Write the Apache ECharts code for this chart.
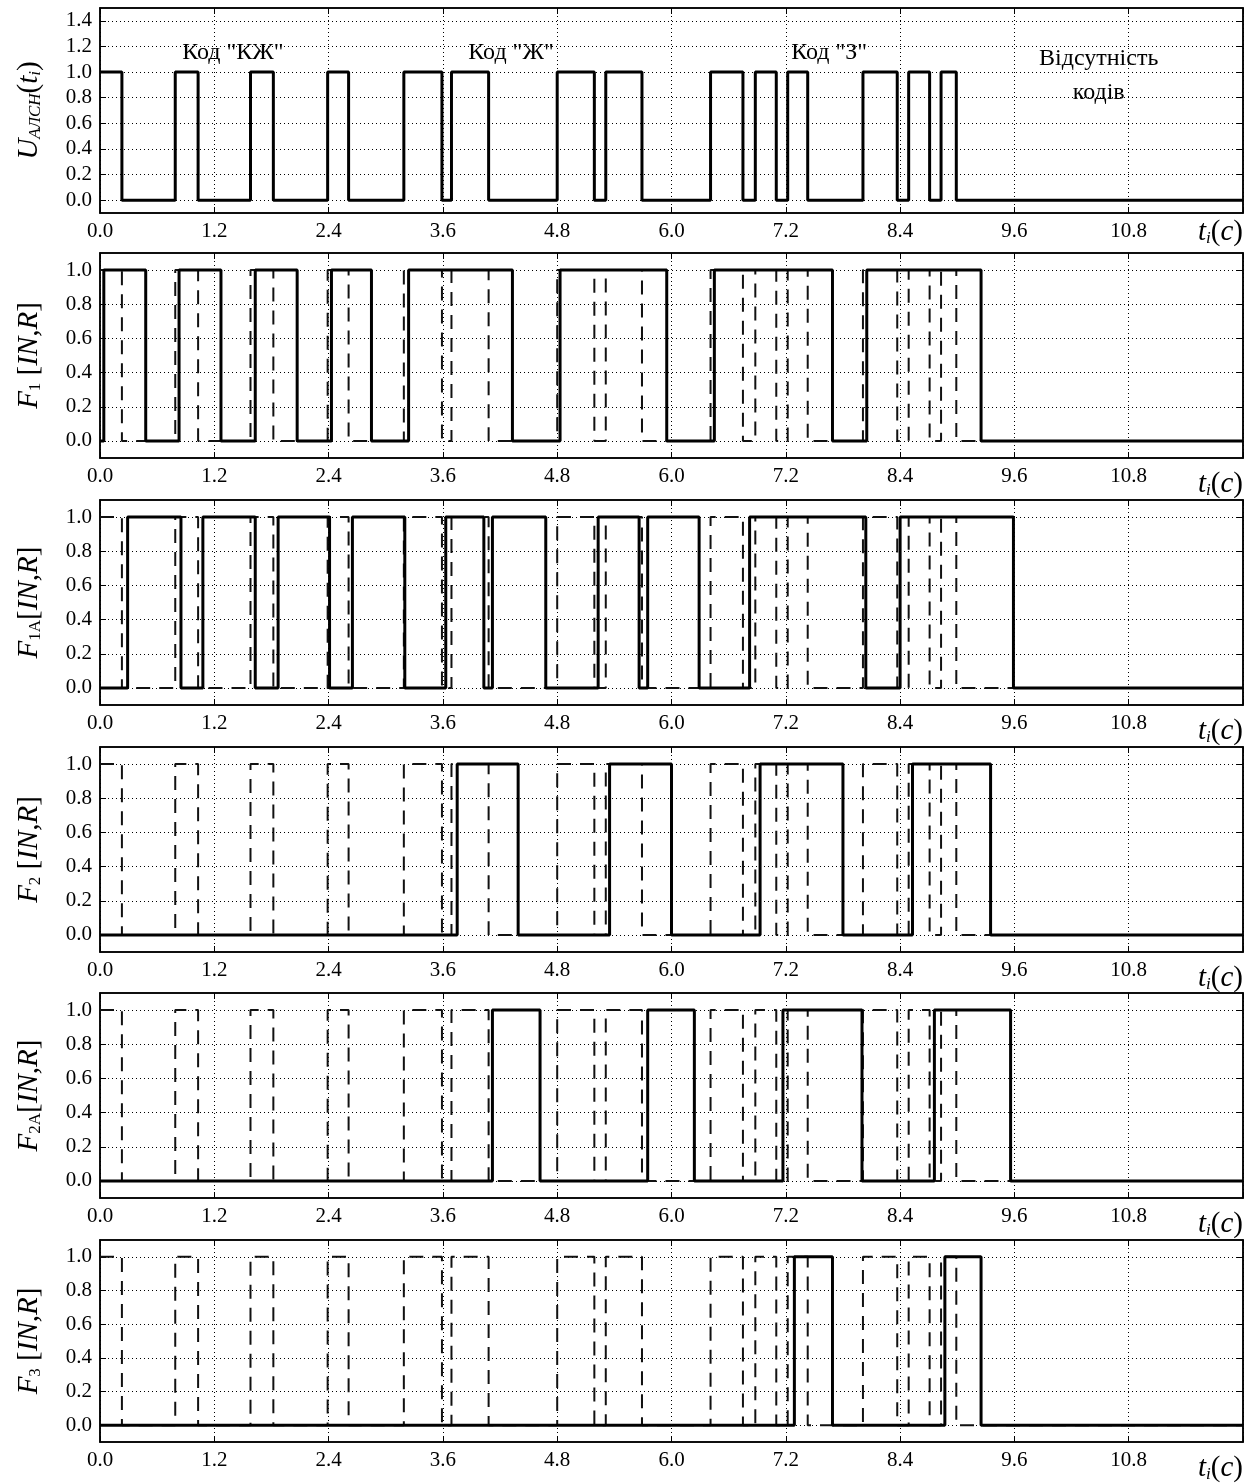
<!DOCTYPE html>
<html>
<head>
<meta charset="utf-8">
<script src="https://cdn.jsdelivr.net/npm/echarts@6/dist/echarts.min.js"></script>
<style>
    html, body { margin: 0; background: #fff; }
    #chart { width: 1259px; height: 1483px; }
</style>
</head>
<body>
<div id="chart"></div>
<script>
// імпульси сигналів: [початок, кінець], с
const uPulses = [[0, 0.23], [0.79, 1.03], [1.58, 1.82], [2.39, 2.61], [3.19, 3.59], [3.69, 4.08], [4.80, 5.19],
    [5.31, 5.69], [6.41, 6.75], [6.88, 7.10], [7.22, 7.43], [8.01, 8.37], [8.49, 8.71], [8.83, 8.99]]
const f1Pulses = [[0.04, 0.48], [0.83, 1.27], [1.63, 2.07], [2.43, 2.85], [3.24, 4.33], [4.83, 5.95], [6.45, 7.69], [8.05, 9.25]]
const f1aPulses = [[0.29, 0.85], [1.08, 1.63], [1.87, 2.41], [2.65, 3.20], [3.63, 4.03], [4.12, 4.68], [5.23, 5.66],
    [5.75, 6.29], [6.82, 8.04], [8.40, 9.59]]
const f2Pulses = [[3.75, 4.39], [5.35, 6.00], [6.93, 7.80], [8.53, 9.35]]
const f2aPulses = [[4.12, 4.62], [5.75, 6.24], [7.17, 8.00], [8.76, 9.56]]
const f3Pulses = [[7.29, 7.69], [8.87, 9.25]]

const tMax = 12
const xInterval = 1.2
const yTicksTop = [0, 0.2, 0.4, 0.6, 0.8, 1.0, 1.2, 1.4]
const yTicks = [0, 0.2, 0.4, 0.6, 0.8, 1.0]

const annoText = ['Код "КЖ"', 'Код "Ж"', 'Код "З"', 'Відсутність\nкодів']
const annoX = [1.40, 4.32, 7.66, 10.49]
const annoY = [1.15, 1.15, 1.15, 0.97]

const font = "'Liberation Serif', 'DejaVu Serif', serif"

const panels = [
    { label: '{i|U}{si|АЛСН}{n|(}{i|t}{si|i}{n|)}', pulses: uPulses, yMax: 1.5, ticks: yTicksTop, dashed: false },
    { label: '{i|F}{s|1}{n| [}{i|IN}{n|,}{i|R}{n|]}', pulses: f1Pulses, yMax: 1.1, ticks: yTicks, dashed: true },
    { label: '{i|F}{s|1A}{n|[}{i|IN}{n|,}{i|R}{n|]}', pulses: f1aPulses, yMax: 1.1, ticks: yTicks, dashed: true },
    { label: '{i|F}{s|2}{n| [}{i|IN}{n|,}{i|R}{n|]}', pulses: f2Pulses, yMax: 1.1, ticks: yTicks, dashed: true },
    { label: '{i|F}{s|2A}{n|[}{i|IN}{n|,}{i|R}{n|]}', pulses: f2aPulses, yMax: 1.1, ticks: yTicks, dashed: true },
    { label: '{i|F}{s|3}{n| [}{i|IN}{n|,}{i|R}{n|]}', pulses: f3Pulses, yMax: 1.1, ticks: yTicks, dashed: true },
]
const tops = [8, 253, 500, 747, 993, 1240]

const rich = {
    i: { fontFamily: font, fontStyle: 'italic', fontSize: 29, color: '#000' },
    n: { fontFamily: font, fontSize: 29, color: '#000' },
    s: { fontFamily: font, fontSize: 17, color: '#000', verticalAlign: 'bottom' },
    si: { fontFamily: font, fontStyle: 'italic', fontSize: 17, color: '#000', verticalAlign: 'bottom' },
}

// ступінчаста крива з імпульсів
const toStep = (pulses) => {
    const d = []
    if (pulses[0][0] > 0) d.push([0, 0])
    pulses.forEach(([s, e]) => {
        d.push([s, 1])
        d.push([e, 0])
    })
    d.push([tMax, 0])
    return d
}

const chart = echarts.init(document.getElementById('chart'))
const grid = []
const xAxis = []
const yAxis = []
const series = []

panels.forEach((p, k) => {
    grid.push({ left: 100, right: 16, top: tops[k], height: 205, show: true, borderColor: '#000', borderWidth: 1.5 })
    const frameLine = { onZero: false, lineStyle: { color: '#000', width: 1.5 } }
    xAxis.push({
        gridIndex: k, type: 'value', min: 0, max: tMax, interval: xInterval,
        axisLine: frameLine,
        axisTick: { inside: true, length: 6, lineStyle: { color: '#000' } },
        axisLabel: {
            formatter: (v) => (v > tMax - 0.01 ? '' : v.toFixed(1)),
            fontFamily: font, fontSize: 21, color: '#000', margin: 8,
        },
        splitLine: { show: true, lineStyle: { type: [1, 3], color: '#000', width: 1 } },
        name: '{i|t}{si|i}{n|(}{i|c}{n|)}',
        nameLocation: 'end',
        nameGap: 0,
        nameTextStyle: { rich, align: 'right', verticalAlign: 'top', padding: [k === 0 ? 5 : 12, 0, 0, 0] },
    })
    xAxis.push({
        gridIndex: k, type: 'value', position: 'top', min: 0, max: tMax, interval: xInterval,
        axisLine: frameLine,
        axisTick: { inside: true, length: 6, lineStyle: { color: '#000' } },
        axisLabel: { show: false },
        splitLine: { show: false },
    })
    yAxis.push({
        gridIndex: k, type: 'value', min: -0.1, max: p.yMax,
        axisLine: frameLine,
        axisTick: { inside: true, length: 6, customValues: p.ticks, lineStyle: { color: '#000' } },
        axisLabel: {
            customValues: p.ticks, formatter: (v) => v.toFixed(1),
            fontFamily: font, fontSize: 21, color: '#000', margin: 8,
        },
        splitLine: { show: true, lineStyle: { type: [1, 3], color: '#000', width: 1 } },
        name: p.label,
        nameLocation: 'middle',
        nameRotate: 90,
        nameGap: 56,
        nameTextStyle: { rich },
    })
    yAxis.push({
        gridIndex: k, type: 'value', position: 'right', min: -0.1, max: p.yMax,
        axisLine: frameLine,
        axisTick: { inside: true, length: 6, customValues: p.ticks, lineStyle: { color: '#000' } },
        axisLabel: { show: false },
        splitLine: { show: false },
    })
    if (p.dashed) {
        series.push({
            type: 'line', xAxisIndex: 2 * k, yAxisIndex: 2 * k, step: 'end', symbol: 'none',
            data: toStep(uPulses),
            lineStyle: { color: '#111', width: 2, type: [14, 9] },
            z: 2,
        })
    }
    series.push({
        type: 'line', xAxisIndex: 2 * k, yAxisIndex: 2 * k, step: 'end', symbol: 'none',
        data: toStep(p.pulses),
        lineStyle: { color: '#000', width: 3 },
        z: 3,
    })
})

// підписи кодів
series.push({
    type: 'scatter', xAxisIndex: 0, yAxisIndex: 0, symbolSize: 1,
    itemStyle: { color: 'rgba(0,0,0,0)', opacity: 1 },
    data: annoX.map((x, k) => ({ value: [x, annoY[k]], name: annoText[k] })),
    label: {
        show: true, position: [0, 0], align: 'center', verticalAlign: 'middle',
        formatter: (p) => p.name,
        fontFamily: font, fontSize: 24, color: '#000', lineHeight: 34,
        textBorderWidth: 0,
    },
    silent: true,
    z: 4,
})

const option = {
    backgroundColor: '#fff',
    animation: false,
    textStyle: { fontFamily: font },
    grid,
    xAxis,
    yAxis,
    series,
}
option && chart.setOption(option)
</script>
</body>
</html>
